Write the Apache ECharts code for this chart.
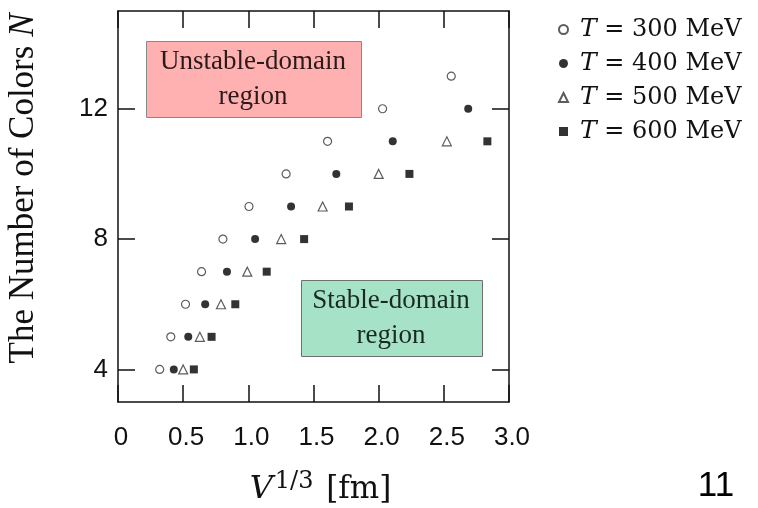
<!DOCTYPE html>
<html><head><meta charset="utf-8">
<script src="https://cdn.jsdelivr.net/npm/echarts@6/dist/echarts.min.js"></script>
<style>html,body{margin:0;padding:0;background:#fff}#c{width:758px;height:508px}</style>
</head><body><div id="c"></div>
<script>
const seriesNames = ['T = 300 MeV', 'T = 400 MeV', 'T = 500 MeV', 'T = 600 MeV'];
const colorsN300 = [4, 5, 6, 7, 8, 9, 10, 11, 12, 13];
const volume300 = [0.32, 0.405, 0.518, 0.641, 0.805, 1.005, 1.29, 1.608, 2.03, 2.557];
const colorsN400 = [4, 5, 6, 7, 8, 9, 10, 11, 12];
const volume400 = [0.428, 0.539, 0.669, 0.836, 1.052, 1.328, 1.675, 2.108, 2.687];
const colorsN500 = [4, 5, 6, 7, 8, 9, 10, 11];
const volume500 = [0.50, 0.628, 0.79, 0.992, 1.252, 1.57, 2.0, 2.523];
const colorsN600 = [4, 5, 6, 7, 8, 9, 10, 11];
const volume600 = [0.582, 0.718, 0.90, 1.141, 1.428, 1.772, 2.236, 2.834];
const yTickValues = [4, 8, 12];

const pairs = (xs, ys) => xs.map((x, i) => [x, ys[i]]);
const serif = 'Liberation Serif';
const mathSerif = 'DejaVu Serif';
const sans = 'Liberation Sans';

const chart = echarts.init(document.getElementById('c'), null, {renderer: 'canvas'});
const baseAxisLine = () => ({show: true, onZero: false, lineStyle: {color: '#111', width: 1.5}});
const tickStyle = () => ({show: true, inside: true, length: 17, lineStyle: {color: '#111', width: 1.5}});

chart.setOption({
  animation: false,
  backgroundColor: '#fff',
  grid: {left: 118, right: 249, top: 11, bottom: 106, containLabel: false, outerBoundsMode: 'none'},
  xAxis: [{
    type: 'value', min: 0, max: 3, interval: 0.5,
    axisLine: baseAxisLine(), axisTick: tickStyle(), splitLine: {show: false},
    axisLabel: {margin: 23, fontFamily: sans, fontSize: 26, color: '#111', padding: [0, 0, 0, 6],
      formatter: v => v === 0 ? '0' : v.toFixed(1)},
    name: '{i|V}{s|1/3} [fm]', nameLocation: 'middle', nameGap: 68,
    nameTextStyle: {fontFamily: mathSerif, fontSize: 31, color: '#111', padding: [0, 0, 0, 14],
      rich: {i: {fontFamily: mathSerif, fontStyle: 'italic', fontSize: 32, color: '#111'},
             s: {fontFamily: mathSerif, fontSize: 24, color: '#111', verticalAlign: 'top', padding: [0, 3, 15, 2]}}}
  }, {
    type: 'value', position: 'top', min: 0, max: 3, interval: 0.5,
    axisLine: baseAxisLine(), axisTick: tickStyle(), axisLabel: {show: false}, splitLine: {show: false}
  }],
  yAxis: [{
    type: 'value', min: 3, max: 15, position: 'left',
    axisLine: baseAxisLine(),
    axisTick: Object.assign(tickStyle(), {customValues: yTickValues}),
    splitLine: {show: false},
    axisLabel: {margin: 10, fontFamily: sans, fontSize: 26, color: '#111', customValues: yTickValues},
    name: 'The Number of Colors {i|N}', nameLocation: 'middle', nameGap: 77, nameRotate: 90,
    nameTextStyle: {fontFamily: serif, fontSize: 35, color: '#111', padding: [0, 0, 0, 36],
      rich: {i: {fontFamily: serif, fontStyle: 'italic', fontSize: 35, color: '#111'}}}
  }, {
    type: 'value', position: 'right', min: 3, max: 15,
    axisLine: baseAxisLine(),
    axisTick: Object.assign(tickStyle(), {customValues: yTickValues}),
    axisLabel: {show: false, customValues: yTickValues},
    splitLine: {show: false}
  }],
  legend: {
    orient: 'vertical', left: 553, top: 12, itemGap: 9, itemWidth: 9, itemHeight: 9,
    data: seriesNames,
    formatter: n => '{i|T} = ' + n.slice(4),
    textStyle: {fontFamily: mathSerif, fontSize: 24, color: '#111', padding: [0, 0, 0, 7],
      rich: {i: {fontFamily: mathSerif, fontStyle: 'italic', fontSize: 25, color: '#111'}}}
  },
  graphic: [
    {type: 'rect', left: 146, top: 41, shape: {width: 215, height: 76},
     style: {fill: '#FFB0B0', stroke: '#8a8a8a', lineWidth: 1}, z: 1},
    {type: 'text', x: 253, y: 79, style: {text: 'Unstable-domain\nregion', fontFamily: serif, fontSize: 27,
      fill: '#2a1a1a', align: 'center', verticalAlign: 'middle', lineHeight: 35}, z: 2},
    {type: 'rect', left: 301, top: 280, shape: {width: 181, height: 76},
     style: {fill: '#A6E2C6', stroke: '#6f6f6f', lineWidth: 1}, z: 1},
    {type: 'text', x: 391, y: 318, style: {text: 'Stable-domain\nregion', fontFamily: serif, fontSize: 27,
      fill: '#1a2a22', align: 'center', verticalAlign: 'middle', lineHeight: 35}, z: 2},
    {type: 'text', x: 716, y: 486, style: {text: '11', fontFamily: sans, fontSize: 35, fill: '#000',
      align: 'center', verticalAlign: 'middle'}, z: 2}
  ],
  series: [
    {name: seriesNames[0], type: 'scatter', data: pairs(volume300, colorsN300), symbol: 'circle', symbolSize: 8,
     itemStyle: {color: '#fff', borderColor: '#333', borderWidth: 1.2}, z: 5},
    {name: seriesNames[1], type: 'scatter', data: pairs(volume400, colorsN400), symbol: 'circle', symbolSize: 8,
     itemStyle: {color: '#000', borderColor: '#000', borderWidth: 0}, z: 5},
    {name: seriesNames[2], type: 'scatter', data: pairs(volume500, colorsN500), symbol: 'triangle', symbolSize: 9,
     itemStyle: {color: '#fff', borderColor: '#333', borderWidth: 1.2}, z: 5},
    {name: seriesNames[3], type: 'scatter', data: pairs(volume600, colorsN600), symbol: 'rect', symbolSize: 8,
     itemStyle: {color: '#000', borderColor: '#000', borderWidth: 0}, z: 5}
  ]
});
</script></body></html>
